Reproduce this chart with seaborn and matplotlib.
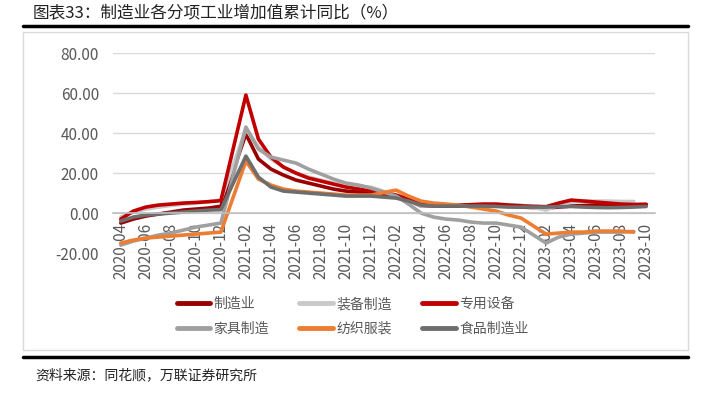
import matplotlib
matplotlib.use("Agg")
import matplotlib.pyplot as plt
from matplotlib.patches import Rectangle
from matplotlib.lines import Line2D
import pandas as pd
import seaborn as sns

# months shown on the axis (January is not published, so it is skipped)
months = pd.period_range("2020-04", "2023-10", freq="M")
data_months = [m for m in months if m.month != 1]

mfg = [-5, -3, -1.5, -0.5, 0.5, 1.5, 2, 2.5, 3.4,
       39.5, 27, 22, 19, 16.5, 15, 13.5, 12, 11, 10.5, 9.8,
       8, 6.5, 3.5, 3.5, 3.5, 3.5, 3.6, 3.8, 3.8, 3.5, 3.0,
       2.5, 3.0, 3.5, 3.8, 4, 3.8, 3.9, 4.2, 4.4]
equip = [-2, 0.5, 2, 3, 3.8, 4.5, 5, 5.7, 6.6,
         42, 33, 27, 23, 20, 18, 16.5, 15, 14, 13.5, 12.9,
         9, 7, 3.5, 3.8, 4, 4, 4.2, 4.3, 4.3, 4.2, 4,
         1.5, 4, 5.5, 6, 6, 6, 5.8, 5.8]
special = [-3, 1, 3, 4, 4.5, 5, 5.3, 5.7, 6.2,
           59, 37, 28, 23, 20, 17.5, 16, 14.5, 13, 12, 11,
           9, 7, 4.5, 4, 4, 4, 4.2, 4.5, 4.5, 4, 3.6,
           3.2, 5, 6.5, 6, 5.5, 5, 4.5, 4.3, 4.2]
furniture = [-16, -14, -12.5, -11, -10, -8.5, -7, -6, -5,
             43, 32, 28, 26.5, 25, 22, 19.5, 17, 15, 14, 12.5,
             8.5, 4.5, 0, -2, -3, -3.5, -4.5, -5, -5, -6, -7,
             -15, -12, -10.5, -10, -9.5, -9.5, -9.5, -9.2]
textile = [-15, -13.5, -12.5, -12, -11.5, -11, -10.5, -10, -9.5,
           26, 17, 14, 12, 11, 10.5, 10, 9.5, 9, 9, 9,
           11.5, 8.5, 6, 5, 4.5, 4, 3, 2, 1, -1, -2.5,
           -10.5, -10, -9.5, -9.5, -9, -9, -9, -9.5]
food = [-4, -2, -1, -0.5, 0, 0.5, 1, 1.5, 1.7,
        28.5, 18, 13, 11, 10.5, 10, 9.5, 9, 8.5, 8.5, 8.5,
        7.5, 6, 4, 3.5, 3.5, 3.5, 3.5, 3.5, 3.3, 3, 3,
        3, 3.2, 3.3, 3, 2.8, 2.7, 2.8, 3, 3.3]

series = {
    "制造业": mfg,
    "装备制造": equip,
    "专用设备": special,
    "家具制造": furniture,
    "纺织服装": textile,
    "食品制造业": food,
}
colors = {
    "制造业": "#990000",
    "装备制造": "#C9C9C9",
    "专用设备": "#C00000",
    "家具制造": "#A0A0A0",
    "纺织服装": "#ED7D31",
    "食品制造业": "#6E6E6E",
}

# long table, x = position of the month on the axis
rows = []
for name, vals in series.items():
    for m, v in zip(data_months, vals):
        rows.append({"x": months.get_loc(m), "value": v, "series": name})
df = pd.DataFrame(rows)

sns.set_style("white")
plt.rcParams["font.family"] = ["Noto Sans CJK SC", "DejaVu Sans"]

fig = plt.figure(figsize=(7.05, 3.93), dpi=100)
ax = fig.add_axes([0.160, 0.356, 0.769, 0.509])

sns.lineplot(data=df, x="x", y="value", hue="series", palette=colors,
             hue_order=list(series.keys()), linewidth=2.6, ax=ax,
             legend=False)

# move the x axis to y=0 first (this resets the tick objects)
for s in ["top", "right", "left"]:
    ax.spines[s].set_visible(False)
ax.spines["bottom"].set_position(("data", 0))
ax.spines["bottom"].set_color("#BFBFBF")
ax.spines["bottom"].set_linewidth(1.2)

ax.set_ylim(-20, 80)
ax.set_xlim(-0.64, 42.7)
ax.set_yticks([-20, 0, 20, 40, 60, 80])
ax.set_yticklabels([f"{t:.2f}" for t in [-20, 0, 20, 40, 60, 80]],
                   fontsize=11, color="#595959")
ax.yaxis.grid(True, color="#D9D9D9", linewidth=1)
ax.set_axisbelow(True)

tick_pos = list(range(0, len(months), 2))
ax.set_xticks(tick_pos)
ax.set_xticklabels([str(months[i]) for i in tick_pos], rotation=90,
                   fontsize=11, color="#595959", va="top")
ax.set_xticks(range(len(months)), minor=True)
ax.tick_params(axis="x", which="both", direction="out", length=5,
               color="#BFBFBF", pad=2)
ax.tick_params(axis="y", length=0, pad=10)
ax.set_xlabel("")
ax.set_ylabel("")

# legend filled column by column -> reorder so rows read like the reference
order = ["制造业", "家具制造", "装备制造", "纺织服装", "专用设备", "食品制造业"]
handles = [Line2D([0], [0], color=colors[n], lw=3.5) for n in order]
fig.legend(handles, order, loc="center", ncol=3,
           bbox_to_anchor=(0.5, 0.195), frameon=False, fontsize=10,
           handlelength=2.4, handletextpad=0.25, columnspacing=2.2,
           labelspacing=0.75, labelcolor="#595959")

# frame and header/footer rules
fig.patches.append(Rectangle((23 / 705, 1 - 350 / 393), 665 / 705, 318 / 393,
                             transform=fig.transFigure, fill=False,
                             edgecolor="#D9D9D9", linewidth=1))
fig.add_artist(Line2D([23 / 705, 688 / 705], [1 - 26 / 393] * 2,
                      color="black", linewidth=2.5))
fig.add_artist(Line2D([23 / 705, 688 / 705], [1 - 357 / 393] * 2,
                      color="black", linewidth=2.5))
fig.text(33 / 705, 1 - 14 / 393, "图表33：制造业各分项工业增加值累计同比（%）",
         fontsize=12, va="center", ha="left", color="#222222")
fig.text(35 / 705, 1 - 375 / 393, "资料来源：同花顺，万联证券研究所",
         fontsize=10, va="center", ha="left", style="italic", color="#222222")

fig.savefig("out.png", dpi=100)
